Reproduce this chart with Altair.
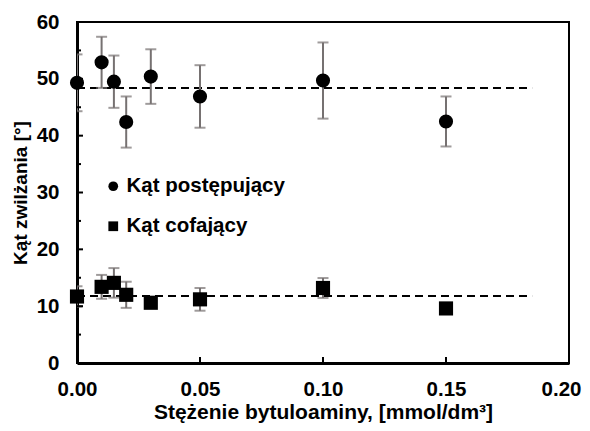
import altair as alt
import pandas as pd

# ---- data ----
conc = [0.0, 0.01, 0.015, 0.02, 0.03, 0.05, 0.10, 0.15]
adv = [49.3, 52.9, 49.5, 42.4, 50.4, 46.9, 49.7, 42.5]
adv_err = [5.0, 4.5, 4.6, 4.5, 4.8, 5.5, 6.7, 4.4]
rec = [11.7, 13.4, 14.1, 12.0, 10.6, 11.2, 13.2, 9.6]
rec_err = [1.8, 2.1, 2.6, 2.3, 0.8, 2.0, 1.75, 0.8]
adv_level = 48.4
rec_level = 11.8
level_x = [0.0, 0.185]
series = ["Kąt postępujący", "Kąt cofający"]
x_ticks = [0.0, 0.05, 0.10, 0.15, 0.20]
y_ticks = [0, 10, 20, 30, 40, 50, 60]
y_major_inner = [10, 20, 30, 40, 50]
y_minor_inner = [5, 15, 25, 35, 45, 55]
x_major_inner = [0.05, 0.10, 0.15]

FONT = "Liberation Sans"
W, H = 492, 341

rows = []
for c, v, e in zip(conc, adv, adv_err):
    rows.append({"x": c, "y": v, "lo": v - e, "hi": v + e, "s": series[0]})
for c, v, e in zip(conc, rec, rec_err):
    rows.append({"x": c, "y": v, "lo": v - e, "hi": v + e, "s": series[1]})
pts = pd.DataFrame(rows)

lines = pd.DataFrame(
    [{"x": lx, "y": adv_level, "s": series[0]} for lx in level_x]
    + [{"x": lx, "y": rec_level, "s": series[1]} for lx in level_x]
)

xscale = alt.Scale(domain=[0, 0.2], nice=False, zero=False, padding=0)
yscale = alt.Scale(domain=[0, 60], nice=False, padding=0)

xaxis = alt.Axis(
    values=x_ticks, format=".2f", ticks=False, grid=False, labelFlush=False,
    labelOffset={"condition": {"test": "datum.value >= 0.199", "value": -8}, "value": 0},
    labelPadding=16, titlePadding=2, labelFontSize=20.5, titleFontSize=21,
    domainColor="black", domainWidth=3,
)
yaxis = alt.Axis(
    values=y_ticks, format="d", ticks=False, grid=False, labelFlush=False,
    labelPadding=18, titlePadding=6, labelFontSize=20.5, titleFontSize=19,
    domainColor="black", domainWidth=3,
)

X = alt.X("x:Q", scale=xscale, axis=xaxis, title="Stężenie bytuloaminy, [mmol/dm³]")
Y = alt.Y("y:Q", scale=yscale, axis=yaxis, title="Kąt zwilżania [°]")

level = alt.Chart(lines).mark_line(
    color="black", strokeWidth=2, strokeDash=[8, 5]
).encode(x=X, y=Y, detail="s:N")

err_rule = alt.Chart(pts).mark_rule(color="#767171", strokeWidth=2, clip=True).encode(
    x="x:Q", y="lo:Q", y2="hi:Q"
)
cap_lo = alt.Chart(pts).mark_tick(
    color="#767171", thickness=2, size=11, orient="horizontal", clip=True
).encode(x="x:Q", y="lo:Q")
cap_hi = alt.Chart(pts).mark_tick(
    color="#767171", thickness=2, size=11, orient="horizontal", clip=True
).encode(x="x:Q", y="hi:Q")

points = alt.Chart(pts).mark_point(
    filled=True, opacity=1, color="black", size=200
).encode(
    x="x:Q",
    y="y:Q",
    shape=alt.Shape(
        "s:N",
        scale=alt.Scale(domain=series, range=["circle", "square"]),
        legend=alt.Legend(
            title=None, orient="none", legendX=26, legendY=154,
            labelFont=FONT, labelFontSize=20.5, labelFontWeight="bold",
            labelColor="black", symbolSize=95, symbolFillColor="black",
            symbolStrokeColor="black", symbolStrokeWidth=0, symbolOpacity=1,
            labelOffset=3, rowPadding=19, padding=0, labelLimit=400,
        ),
    ),
)

ymaj = alt.Chart(pd.DataFrame({"y": y_major_inner})).mark_rule(
    color="black", strokeWidth=2
).encode(y="y:Q", x=alt.value(0), x2=alt.value(6))
ymin = alt.Chart(pd.DataFrame({"y": y_minor_inner})).mark_rule(
    color="black", strokeWidth=2
).encode(y="y:Q", x=alt.value(0), x2=alt.value(4))
xmaj = alt.Chart(pd.DataFrame({"x": x_major_inner})).mark_rule(
    color="black", strokeWidth=2
).encode(x="x:Q", y=alt.value(H), y2=alt.value(H - 6))

chart = (
    alt.layer(level, err_rule, cap_lo, cap_hi, ymaj, ymin, xmaj, points)
    .properties(
        width=W, height=H,
        autosize=alt.AutoSizeParams(type="none"),
        padding={"left": 69, "top": 14, "right": 13, "bottom": 60},
        background="white",
    )
    .configure_view(stroke="black", strokeWidth=2)
    .configure_axis(
        labelFont=FONT, labelFontWeight="bold", labelColor="black",
        titleFont=FONT, titleFontWeight="bold", titleColor="black",
    )
)

chart.save("out.html", embed_options={"renderer": "svg", "actions": False})
